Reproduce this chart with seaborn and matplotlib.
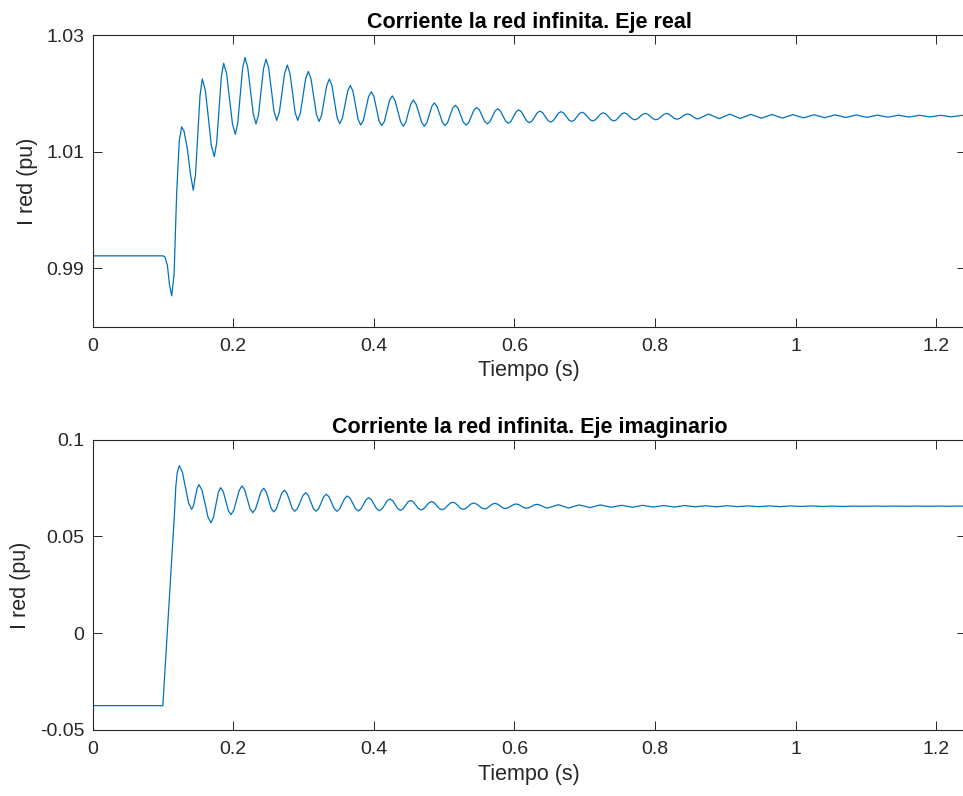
import matplotlib
matplotlib.use("Agg")
import matplotlib.pyplot as plt
import pandas as pd
import seaborn as sns

# Grid current, real axis component (pu) vs time (s)
t_real = [
    0.0000, 0.1000, 0.1030, 0.1065, 0.1095, 0.1126, 0.1160, 0.1197, 0.1233, 0.1268,
    0.1300, 0.1348, 0.1395, 0.1433, 0.1465, 0.1497, 0.1529, 0.1561,
    0.1604, 0.1647, 0.1689, 0.1732, 0.1765, 0.1799, 0.1832, 0.1865,
    0.1907, 0.1948, 0.1990, 0.2031, 0.2065, 0.2100, 0.2134, 0.2168,
    0.2207, 0.2247, 0.2286, 0.2325, 0.2361, 0.2396, 0.2432, 0.2467,
    0.2505, 0.2543, 0.2581, 0.2619, 0.2657, 0.2695, 0.2732, 0.2770,
    0.2807, 0.2844, 0.2880, 0.2917, 0.2955, 0.2993, 0.3031, 0.3069,
    0.3107, 0.3145, 0.3183, 0.3221, 0.3258, 0.3294, 0.3331, 0.3367,
    0.3404, 0.3441, 0.3478, 0.3515, 0.3553, 0.3591, 0.3628, 0.3666,
    0.3703, 0.3740, 0.3776, 0.3813, 0.3851, 0.3889, 0.3926, 0.3964,
    0.4001, 0.4038, 0.4075, 0.4112, 0.4150, 0.4188, 0.4225, 0.4263,
    0.4302, 0.4341, 0.4380, 0.4419, 0.4455, 0.4490, 0.4526, 0.4561,
    0.4600, 0.4640, 0.4679, 0.4718, 0.4754, 0.4789, 0.4825, 0.4860,
    0.4898, 0.4936, 0.4974, 0.5012, 0.5049, 0.5086, 0.5122, 0.5159,
    0.5197, 0.5235, 0.5272, 0.5310, 0.5348, 0.5387, 0.5425, 0.5463,
    0.5501, 0.5539, 0.5576,
    0.5614, 0.5651, 0.5688, 0.5724, 0.5761, 0.5799, 0.5837, 0.5874,
    0.5912, 0.5949, 0.5986, 0.6023, 0.6060, 0.6098, 0.6136, 0.6173,
    0.6211, 0.6249, 0.6287, 0.6325, 0.6363, 0.6401, 0.6439, 0.6477,
    0.6515, 0.6552, 0.6589, 0.6625, 0.6662, 0.6700, 0.6738, 0.6775,
    0.6813, 0.6850, 0.6887, 0.6923, 0.6960, 0.6998, 0.7036, 0.7074,
    0.7112, 0.7150, 0.7188, 0.7225, 0.7263, 0.7301, 0.7338, 0.7376,
    0.7413, 0.7450, 0.7487, 0.7523, 0.7560, 0.7598, 0.7635, 0.7673,
    0.7710, 0.7748, 0.7785, 0.7823, 0.7860, 0.7898, 0.7935, 0.7973,
    0.8010, 0.8048, 0.8085, 0.8123, 0.8160, 0.8198, 0.8235, 0.8273,
    0.8310, 0.8348, 0.8385, 0.8423, 0.8460, 0.8498, 0.8535, 0.8573,
    0.8610, 0.8685, 0.8760, 0.8835, 0.8910, 0.8985, 0.9060, 0.9135,
    0.9210, 0.9285, 0.9360, 0.9435, 0.9510, 0.9585, 0.9660, 0.9735,
    0.9810, 0.9885, 0.9960, 1.0035, 1.0110, 1.0185, 1.0260, 1.0335,
    1.0410, 1.0485, 1.0560, 1.0635, 1.0710, 1.0785, 1.0860, 1.0935,
    1.1010, 1.1085, 1.1160, 1.1235, 1.1310, 1.1385, 1.1460, 1.1535,
    1.1610, 1.1685, 1.1760, 1.1835, 1.1910, 1.1985, 1.2060, 1.2135,
    1.2210, 1.2285, 1.2360, 1.2430, 1.2500,
]
i_real = [
    0.99216, 0.99216, 0.99200, 0.99050, 0.98720, 0.98530, 0.98900, 1.00300, 1.01180, 1.01430,
    1.01360, 1.01060, 1.00600, 1.00340, 1.00620, 1.01300, 1.01970, 1.02250,
    1.02060, 1.01590, 1.01110, 1.00920, 1.01150, 1.01720, 1.02290, 1.02520,
    1.02340, 1.01910, 1.01480, 1.01300, 1.01490, 1.01960, 1.02430, 1.02620,
    1.02450, 1.02050, 1.01650, 1.01480, 1.01640, 1.02040, 1.02430, 1.02590,
    1.02440, 1.02070, 1.01690, 1.01540, 1.01680, 1.02020, 1.02350, 1.02490,
    1.02350, 1.02020, 1.01680, 1.01540, 1.01660, 1.01960, 1.02260, 1.02380,
    1.02250, 1.01950, 1.01650, 1.01520, 1.01630, 1.01890, 1.02140, 1.02250,
    1.02140, 1.01870, 1.01590, 1.01480, 1.01580, 1.01810, 1.02040, 1.02140,
    1.02040, 1.01800, 1.01560, 1.01460, 1.01540, 1.01750, 1.01950, 1.02030,
    1.01950, 1.01740, 1.01530, 1.01450, 1.01520, 1.01710, 1.01890, 1.01960,
    1.01880, 1.01700, 1.01520, 1.01440, 1.01510, 1.01670, 1.01820, 1.01890,
    1.01820, 1.01670, 1.01510, 1.01440, 1.01500, 1.01640, 1.01780, 1.01840,
    1.01780, 1.01650, 1.01510, 1.01450, 1.01500, 1.01630, 1.01750, 1.01800,
    1.01750, 1.01630, 1.01510, 1.01460, 1.01500, 1.01610, 1.01720, 1.01760,
    1.01720, 1.01620, 1.01520,
    1.01480, 1.01518, 1.01610, 1.01702, 1.01740, 1.01703, 1.01615, 1.01527,
    1.01490, 1.01524, 1.01605, 1.01686, 1.01720, 1.01688, 1.01610, 1.01532,
    1.01500, 1.01529, 1.01600, 1.01671, 1.01700, 1.01672, 1.01605, 1.01538,
    1.01510, 1.01536, 1.01600, 1.01664, 1.01690, 1.01665, 1.01605, 1.01545,
    1.01520, 1.01543, 1.01600, 1.01657, 1.01680, 1.01658, 1.01605, 1.01552,
    1.01530, 1.01550, 1.01600, 1.01650, 1.01670, 1.01650, 1.01600, 1.01550,
    1.01530, 1.01550, 1.01600, 1.01650, 1.01670, 1.01652, 1.01610, 1.01568,
    1.01550, 1.01566, 1.01605, 1.01644, 1.01660, 1.01644, 1.01605, 1.01566,
    1.01550, 1.01566, 1.01605, 1.01644, 1.01660, 1.01645, 1.01610, 1.01575,
    1.01560, 1.01573, 1.01605, 1.01637, 1.01650, 1.01638, 1.01608, 1.01577,
    1.01565, 1.01607, 1.01650, 1.01609, 1.01569, 1.01608, 1.01647, 1.01610,
    1.01573, 1.01608, 1.01644, 1.01610, 1.01577, 1.01609, 1.01641, 1.01610,
    1.01580, 1.01609, 1.01638, 1.01611, 1.01584, 1.01610, 1.01636, 1.01611,
    1.01587, 1.01610, 1.01634, 1.01612, 1.01590, 1.01611, 1.01632, 1.01612,
    1.01592, 1.01611, 1.01630, 1.01612, 1.01595, 1.01612, 1.01629, 1.01613,
    1.01597, 1.01612, 1.01628, 1.01613, 1.01599, 1.01613, 1.01627, 1.01614,
    1.01601, 1.01614, 1.01626, 1.01615, 1.01603,
]

# Grid current, imaginary axis component (pu) vs time (s)
t_imag = [
    0.0000, 0.1000, 0.1163, 0.1185, 0.1205, 0.1234,
    0.1278, 0.1322, 0.1366, 0.1410, 0.1436, 0.1462, 0.1488, 0.1514,
    0.1557, 0.1600, 0.1642, 0.1685, 0.1719, 0.1754, 0.1788, 0.1822,
    0.1859, 0.1896, 0.1932, 0.1969, 0.2008, 0.2048, 0.2087, 0.2126,
    0.2164, 0.2202, 0.2240, 0.2278, 0.2317, 0.2356, 0.2395, 0.2434,
    0.2470, 0.2505, 0.2541, 0.2576, 0.2614, 0.2652, 0.2690, 0.2728,
    0.2765, 0.2802, 0.2838, 0.2875, 0.2914, 0.2953, 0.2992, 0.3031,
    0.3068, 0.3105, 0.3141, 0.3178, 0.3215, 0.3252, 0.3288, 0.3325,
    0.3363, 0.3401, 0.3438, 0.3476, 0.3513, 0.3550, 0.3586, 0.3623,
    0.3662, 0.3702, 0.3741,
    0.3780, 0.3817, 0.3854, 0.3890, 0.3927, 0.3965, 0.4003, 0.4040,
    0.4078, 0.4116, 0.4154, 0.4192, 0.4230, 0.4267, 0.4304, 0.4340,
    0.4377, 0.4414, 0.4451, 0.4487, 0.4524, 0.4561, 0.4598, 0.4634,
    0.4671, 0.4709, 0.4747, 0.4785, 0.4823, 0.4860, 0.4896, 0.4933,
    0.4969, 0.5007, 0.5045, 0.5083, 0.5121, 0.5159, 0.5197, 0.5234,
    0.5272, 0.5309, 0.5346, 0.5383, 0.5420, 0.5458, 0.5496, 0.5533,
    0.5571, 0.5609, 0.5647, 0.5685, 0.5723, 0.5760, 0.5797, 0.5833,
    0.5870, 0.5908, 0.5946, 0.5984, 0.6022, 0.6060, 0.6098, 0.6135,
    0.6173, 0.6210, 0.6247, 0.6283, 0.6320, 0.6358, 0.6396, 0.6434,
    0.6472, 0.6548, 0.6624, 0.6697, 0.6770, 0.6846, 0.6922, 0.6998,
    0.7074, 0.7147, 0.7220, 0.7296, 0.7372, 0.7448, 0.7524, 0.7600,
    0.7676, 0.7749, 0.7822, 0.7898, 0.7973, 0.8047, 0.8120, 0.8197,
    0.8273, 0.8347, 0.8420, 0.8572, 0.8720, 0.8872, 0.9020, 0.9172,
    0.9320, 0.9472, 0.9620, 0.9772, 0.9920, 1.0072, 1.0220, 1.0372,
    1.0520, 1.0670, 1.0820, 1.0970, 1.1120, 1.1270, 1.1420, 1.1570,
    1.1720, 1.1870, 1.2020, 1.2170, 1.2320, 1.2470,
]
i_imag = [
    -0.0374, -0.0374, 0.0602, 0.0760, 0.0830, 0.0866,
    0.0833, 0.0753, 0.0673, 0.0640, 0.0659, 0.0704, 0.0749, 0.0768,
    0.0739, 0.0670, 0.0600, 0.0571, 0.0597, 0.0662, 0.0726, 0.0752,
    0.0732, 0.0683, 0.0633, 0.0613, 0.0635, 0.0687, 0.0739, 0.0761,
    0.0741, 0.0692, 0.0643, 0.0623, 0.0641, 0.0686, 0.0731, 0.0749,
    0.0731, 0.0688, 0.0645, 0.0627, 0.0643, 0.0683, 0.0723, 0.0739,
    0.0723, 0.0685, 0.0646, 0.0630, 0.0644, 0.0678, 0.0712, 0.0726,
    0.0712, 0.0678, 0.0644, 0.0630, 0.0643, 0.0674, 0.0705, 0.0718,
    0.0705, 0.0674, 0.0643, 0.0630, 0.0642, 0.0670, 0.0697, 0.0709,
    0.0698, 0.0671, 0.0643,
    0.0632, 0.0642, 0.0666, 0.0690, 0.0700, 0.0690, 0.0667, 0.0643,
    0.0633, 0.0642, 0.0664, 0.0685, 0.0694, 0.0685, 0.0665, 0.0644,
    0.0635, 0.0642, 0.0661, 0.0679, 0.0686, 0.0679, 0.0662, 0.0644,
    0.0637, 0.0643, 0.0659, 0.0674, 0.0680, 0.0674, 0.0659, 0.0644,
    0.0638, 0.0644, 0.0658, 0.0671, 0.0677, 0.0672, 0.0659, 0.0645,
    0.0640, 0.0645, 0.0657, 0.0668, 0.0673, 0.0668, 0.0658, 0.0647,
    0.0642, 0.0646, 0.0657, 0.0667, 0.0671, 0.0667, 0.0658, 0.0648,
    0.0644, 0.0648, 0.0656, 0.0664, 0.0668, 0.0665, 0.0657, 0.0649,
    0.0646, 0.0649, 0.0656, 0.0663, 0.0666, 0.0663, 0.06565, 0.0650,
    0.0647, 0.06555, 0.0664, 0.06555, 0.0647, 0.0655, 0.0663, 0.0656,
    0.0649, 0.0656, 0.0663, 0.0657, 0.0651, 0.0656, 0.0661, 0.0656,
    0.0651, 0.0656, 0.0661, 0.0656, 0.0652, 0.0656, 0.0660, 0.0656,
    0.0652, 0.0656, 0.0660, 0.0653, 0.0659, 0.0653, 0.0659, 0.0654,
    0.0658, 0.0654, 0.0658, 0.0654, 0.0658, 0.0655, 0.0658, 0.0655,
    0.0657, 0.0655, 0.0657, 0.0656, 0.0657, 0.0656, 0.0657, 0.0656,
    0.0657, 0.0656, 0.0657, 0.0656, 0.0657, 0.0656,
]

titles = ["Corriente la red infinita. Eje real",
          "Corriente la red infinita. Eje imaginario"]
x_label = "Tiempo (s)"
y_label = "I red (pu)"
x_ticks = [0, 0.2, 0.4, 0.6, 0.8, 1.0, 1.2]
x_tick_labels = ["0", "0.2", "0.4", "0.6", "0.8", "1", "1.2"]
y_ticks_real = [0.99, 1.01, 1.03]
y_tick_labels_real = ["0.99", "1.01", "1.03"]
y_ticks_imag = [-0.05, 0, 0.05, 0.1]
y_tick_labels_imag = ["-0.05", "0", "0.05", "0.1"]

sns.set_style("ticks")
plt.rcParams.update({
    "font.family": ["Liberation Sans", "DejaVu Sans"],
    "axes.edgecolor": "#262626",
    "axes.linewidth": 0.8,
    "xtick.color": "#262626",
    "ytick.color": "#262626",
    "xtick.direction": "in",
    "ytick.direction": "in",
    "xtick.major.size": 6.5,
    "ytick.major.size": 6.5,
    "xtick.major.width": 0.7,
    "ytick.major.width": 0.7,
    "xtick.top": True,
    "ytick.right": True,
    "xtick.labelsize": 14,
    "ytick.labelsize": 14,
})

W, H = 963, 796
fig = plt.figure(figsize=(W / 100, H / 100), dpi=100)
fig.patch.set_facecolor("white")

# axes geometry in pixels; right border sits just past the canvas edge
x_left = 92.5
px_per_s = 703.3
x_right_px = 966
xmax = (x_right_px - x_left) / px_per_s

panels = [
    (35.3, 326.7, t_real, i_real, (0.98, 1.03), y_ticks_real, y_tick_labels_real, titles[0]),
    (439.7, 730.0, t_imag, i_imag, (-0.05, 0.1), y_ticks_imag, y_tick_labels_imag, titles[1]),
]

line_color = "#0072BD"
text_color = "#262626"

for top_px, bot_px, tt, yy, ylim, yt, ytl, title in panels:
    ax = fig.add_axes([x_left / W, 1 - bot_px / H,
                       (x_right_px - x_left) / W, (bot_px - top_px) / H])
    df = pd.DataFrame({"t": tt, "i": yy})
    sns.lineplot(data=df, x="t", y="i", ax=ax, color=line_color,
                 linewidth=0.9, estimator=None, sort=False)
    ax.set_xlim(0, xmax)
    ax.set_ylim(*ylim)
    ax.set_xticks(x_ticks)
    ax.set_xticklabels(x_tick_labels)
    ax.set_yticks(yt)
    ax.set_yticklabels(ytl)
    ax.tick_params(axis="x", pad=8)
    ax.tick_params(axis="y", pad=6)
    ax.set_xlabel(x_label, fontsize=15.5, color=text_color, labelpad=4)
    ax.set_ylabel(y_label, fontsize=15.5, color=text_color, labelpad=6)
    ax.set_title(title, fontsize=15.5, fontweight="bold", color="black", pad=5)
    for s in ax.spines.values():
        s.set_visible(True)

fig.savefig("out.png", dpi=100, facecolor="white")
